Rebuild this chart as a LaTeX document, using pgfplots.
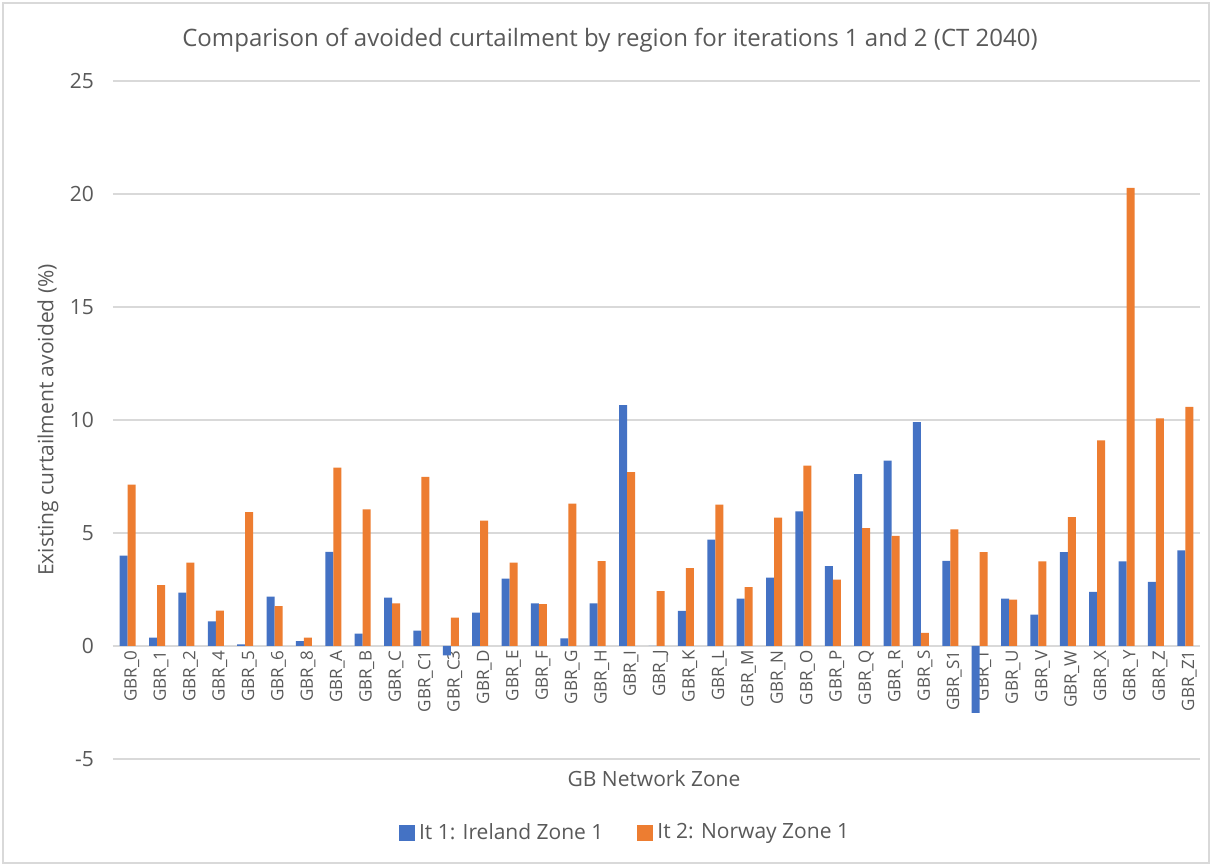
\documentclass[border=0pt]{standalone}
\usepackage{fontspec}
\setmainfont{Open Sans}
\usepackage{pgfplots}
\pgfplotsset{compat=1.18}
\definecolor{cblue}{HTML}{4472C4}
\definecolor{corange}{HTML}{ED7D31}
\definecolor{cgrid}{HTML}{D9D9D9}
\definecolor{ctext}{HTML}{595959}
\begin{document}
\begin{tikzpicture}
\path[use as bounding box] (0pt,0pt) rectangle (606pt,433pt);
\fill[white] (0pt,0pt) rectangle (606pt,433pt);
\draw[cgrid,line width=0.8pt] (1.5pt,1.5pt) rectangle (604.5pt,431.5pt);
\begin{axis}[
  at={(56.5pt,53.5pt)}, anchor=south west,
  width=543.5pt, height=339pt, scale only axis,
  ybar=0pt, bar width=4pt,
  xmin=-0.5, xmax=36.5, ymin=-5, ymax=25,
  ytick={-5,0,5,10,15,20,25},
  axis x line=middle, axis y line=left,
  x axis line style={draw=cgrid, line width=0.8pt, -},
  y axis line style={draw=none},
  ymajorgrids, grid style={cgrid, line width=0.8pt},
  major tick length=0pt,
  xtick={0,...,36},
  xticklabels={GBR\_0,GBR\_1,GBR\_2,GBR\_4,GBR\_5,GBR\_6,GBR\_8,GBR\_A,GBR\_B,GBR\_C,GBR\_C1,GBR\_C3,GBR\_D,GBR\_E,GBR\_F,GBR\_G,GBR\_H,GBR\_I,GBR\_J,GBR\_K,GBR\_L,GBR\_M,GBR\_N,GBR\_O,GBR\_P,GBR\_Q,GBR\_R,GBR\_S,GBR\_S1,GBR\_T,GBR\_U,GBR\_V,GBR\_W,GBR\_X,GBR\_Y,GBR\_Z,GBR\_Z1},
  xticklabel style={rotate=90, anchor=east, font=\fontsize{8.5}{10}\selectfont, text=ctext, inner sep=2pt, yshift=-2pt},
  yticklabel style={font=\fontsize{10.5}{12}\selectfont, text=ctext, xshift=-6pt},
  ytick style={draw=none},
  /pgf/number format/assume math mode=true,
  legend style={at={(0.472,-0.109)}, anchor=center, draw=none, legend columns=2,
    font=\fontsize{10.5}{12}\selectfont, text=ctext,
    /tikz/every even column/.append style={column sep=15pt}},
  legend image code/.code={\fill[#1, draw=none] (0pt,-4pt) rectangle (8pt,4pt);},
  clip=false,
]
\addplot[fill=cblue, draw=none] coordinates {
(0,4.00) (1,0.37) (2,2.36) (3,1.09) (4,0.07) (5,2.18) (6,0.21) (7,4.16) (8,0.55)
(9,2.14) (10,0.68) (11,-0.41) (12,1.48) (13,2.98) (14,1.89) (15,0.34) (16,1.89)
(17,10.66) (18,0) (19,1.55) (20,4.71) (21,2.10) (22,3.03) (23,5.96) (24,3.53)
(25,7.60) (26,8.20) (27,9.91) (28,3.77) (29,-2.96) (30,2.10) (31,1.39) (32,4.15)
(33,2.40) (34,3.74) (35,2.84) (36,4.23)};
\addplot[fill=corange, draw=none] coordinates {
(0,7.14) (1,2.69) (2,3.69) (3,1.56) (4,5.92) (5,1.76) (6,0.37) (7,7.89) (8,6.05)
(9,1.89) (10,7.48) (11,1.26) (12,5.55) (13,3.69) (14,1.85) (15,6.30) (16,3.75)
(17,7.69) (18,2.43) (19,3.44) (20,6.26) (21,2.60) (22,5.68) (23,7.98) (24,2.94)
(25,5.21) (26,4.87) (27,0.58) (28,5.16) (29,4.15) (30,2.05) (31,3.74) (32,5.70)
(33,9.10) (34,20.27) (35,10.07) (36,10.58)};
\legend{It 1: Ireland Zone 1, It 2: Norway Zone 1}
\end{axis}
\node[text=ctext, font=\fontsize{12}{14}\selectfont] at (305pt,413pt) {Comparison of avoided curtailment by region for iterations 1 and 2 (CT 2040)};
\node[text=ctext, font=\fontsize{10.5}{12}\selectfont, rotate=90] at (24pt,223pt) {Existing curtailment avoided (\%)};
\node[text=ctext, font=\fontsize{10.5}{12}\selectfont] at (327pt,43.5pt) {GB Network Zone};
\end{tikzpicture}
\end{document}
